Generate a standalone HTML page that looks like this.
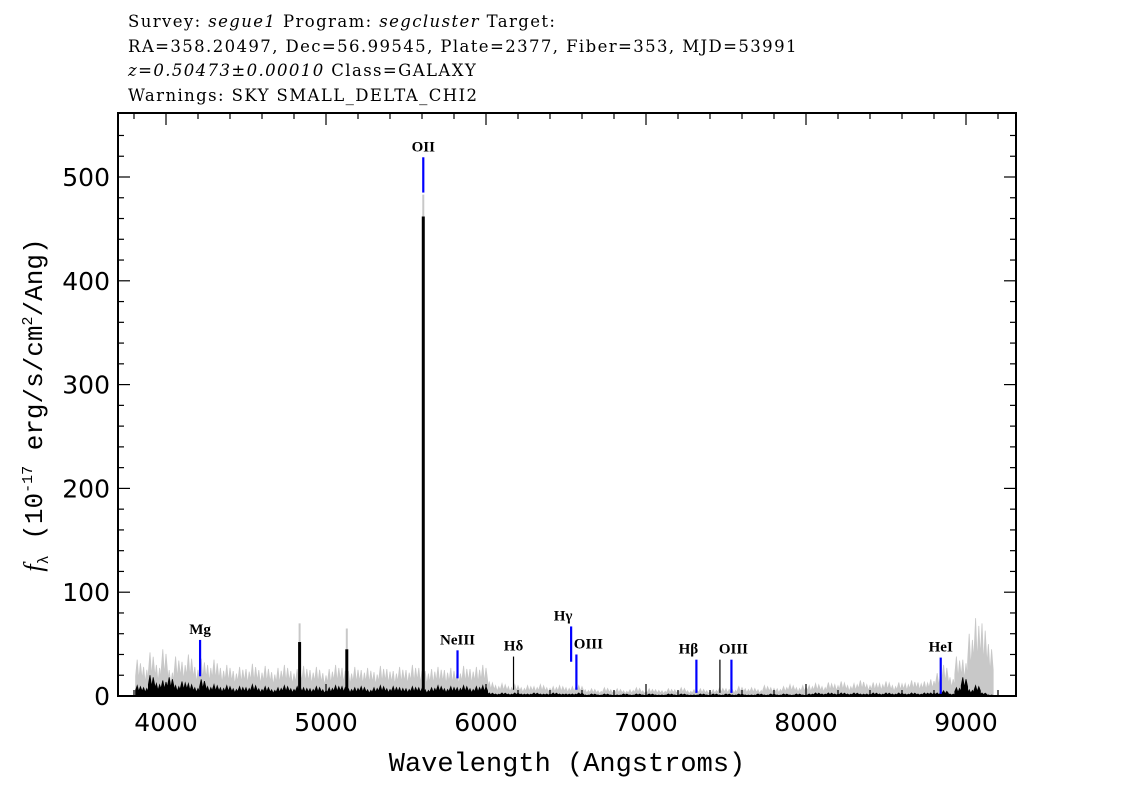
<!DOCTYPE html>
<html><head><meta charset="utf-8">
<style>
body{margin:0;background:#fff;width:1134px;height:810px;overflow:hidden;font-family:"Liberation Sans",sans-serif}
#hdr{position:absolute;left:128px;top:10px;font-size:16.5px;line-height:24.5px;color:#000;font-family:"DejaVu Serif","Liberation Serif",serif;letter-spacing:1.4px}
</style></head><body>
<div id="hdr">
<div>Survey: <i>segue1</i> Program: <i>segcluster</i> Target:</div>
<div>RA=358.20497, Dec=56.99545, Plate=2377, Fiber=353, MJD=53991</div>
<div><i>z=0.50473±0.00010</i> Class=GALAXY</div>
<div>Warnings: SKY SMALL_DELTA_CHI2</div>
</div>
<svg id="chart" width="1134" height="810" style="position:absolute;left:0;top:0"></svg>
<script>
const wStart=3830, wStep=40;
const errFlux=[35,28,42,30,45,25,38,33,40,28,36,30,35,
27,30,24,28,26,31,25,29,23,27,30,24,26,29,25,28,22,26,30,27,24,28,25,27,23,29,26,24,28,25,30,27,24,26,28,25,27,24,29,26,28,30,
14,10,12,9,11,8,10,9,11,8,9,10,8,9,10,
6,7,5,8,6,7,5,6,8,5,7,6,5,7,6,8,5,6,7,5,6,8,7,6,9,7,8,6,10,8,7,9,11,8,10,
10,12,9,13,11,14,10,12,15,11,13,12,14,10,13,12,15,13,14,16,
22,30,18,38,35,60,75,70,50];
const flux=[10,8,20,12,15,18,10,14,12,8,16,9,11,
8,10,7,9,8,11,7,9,6,8,10,7,9,8,7,9,6,8,10,9,7,8,9,6,8,10,7,9,8,7,9,8,6,8,10,7,9,8,10,7,9,10,
3,2,3,2,3,2,2,3,2,2,3,2,2,2,3,
1,2,1,2,1,1,2,1,2,1,2,1,1,2,1,2,1,1,2,1,2,1,2,1,2,1,1,2,1,2,1,2,1,2,1,
2,3,2,3,2,3,2,3,2,2,3,2,3,2,3,2,3,2,3,3,
3,5,2,8,18,6,10,3,1];
const spikeW=[4835,5130,5608];
const spikeFlux=[52,45,462];
const spikeErr=[70,65,483];
const lineNames=["OII","Mg","NeIII","Hδ","Hγ","OIII","Hβ","","OIII","HeI"];
const lineW=[5608,4213,5822,6172,6532,6565,7315,7462,7534,8842];
const lineLo=[485,19,17,6,33,6,3,3,3,2];
const lineHi=[519,54,44,38,67,40,35,35,35,37];
const lineColor=["#00f","#00f","#00f","#000","#00f","#00f","#00f","#000","#00f","#00f"];
const lineLabelDx=[0,0,0,0,-8,12,-8,0,2,0];
const xTicks=[4000,5000,6000,7000,8000,9000];
const yTicks=[0,100,200,300,400,500];

const L=118,R=1016,T=113,B=696;
const X=w=>166+(w-4000)*0.16;
const Y=v=>696-v*1.038;
const svg=document.getElementById('chart');
const NS='http://www.w3.org/2000/svg';
function mk(tag,attrs,parent){const e=document.createElementNS(NS,tag);for(const k in attrs)e.setAttribute(k,attrs[k]);(parent||svg).appendChild(e);return e;}

function series(arr,color,name){
  let d='M'+X(wStart-wStep/2)+','+Y(0);
  arr.forEach((v,i)=>{const w=wStart+i*wStep;const xa=X(w-wStep/2),xb=X(w),xc=X(w+wStep/2);
    d+=' L'+xa+','+Y(v*0.55)+' L'+(xa+xb)/2+','+Y(v)+' L'+xb+','+Y(v*0.45)+' L'+(xb+xc)/2+','+Y(v*0.9)+' L'+xc+','+Y(v*0.5);});
  d+=' L'+X(wStart+(arr.length-0.5)*wStep)+','+Y(0)+' Z';
  const p=mk('path',{d:d,fill:color,stroke:color,'stroke-width':0.8});
  
  
}
series(errFlux,'#c8c8c8','error-spectrum');
spikeW.forEach((w,i)=>{const l=mk('line',{x1:X(w),x2:X(w),y1:Y(0),y2:Y(spikeErr[i]),stroke:'#c8c8c8','stroke-width':2});
  
  });
series(flux,'#000','flux-spectrum');
spikeW.forEach((w,i)=>{const l=mk('line',{x1:X(w),x2:X(w),y1:Y(0),y2:Y(spikeFlux[i]),stroke:'#000','stroke-width':3});
  
  });

lineW.forEach((w,i)=>{
  const l=mk('line',{x1:X(w),x2:X(w),y1:Y(lineLo[i]),y2:Y(lineHi[i]),stroke:lineColor[i],'stroke-width':(lineColor[i]==='#000')?1.2:2.2});
  
  
  if(lineNames[i]){const t=mk('text',{x:X(w)+lineLabelDx[i],y:Y(lineHi[i])-6,'text-anchor':'middle','font-size':15,'font-weight':'bold','font-family':'Liberation Serif,serif'});
    t.textContent=lineNames[i];
    
    }
});

const frame=mk('rect',{x:L,y:T,width:R-L,height:B-T,fill:'none',stroke:'#000','stroke-width':2});


for(let w=3800;w<=9300;w+=200){const x=X(w);const maj=w%1000===0;const len=maj?12:6;
  mk('line',{x1:x,x2:x,y1:B,y2:B-len,stroke:'#000','stroke-width':1.2});
  mk('line',{x1:x,x2:x,y1:T,y2:T+len,stroke:'#000','stroke-width':1.2});}
for(let v=0;v<=540;v+=20){const y=Y(v);const maj=v%100===0;const len=maj?12:6;
  mk('line',{x1:L,x2:L+len,y1:y,y2:y,stroke:'#000','stroke-width':1.2});
  mk('line',{x1:R,x2:R-len,y1:y,y2:y,stroke:'#000','stroke-width':1.2});}
xTicks.forEach(w=>{const t=mk('text',{x:X(w),y:731,'text-anchor':'middle','font-size':25,'font-family':'DejaVu Sans,sans-serif'});t.textContent=w;
  
  });
yTicks.forEach(v=>{const t=mk('text',{x:110,y:Y(v)+9,'text-anchor':'end','font-size':25,'font-family':'DejaVu Sans,sans-serif'});t.textContent=v;
  
  });
const xt=mk('text',{x:567,y:771,'text-anchor':'middle','font-size':27,'font-family':'Liberation Mono,monospace'});
xt.textContent='Wavelength (Angstroms)';


const yt=mk('text',{x:0,y:0,'text-anchor':'middle','font-size':26,'font-family':'Liberation Mono,monospace',transform:'translate(42,405) rotate(-90)'});
yt.innerHTML='<tspan font-style="italic" font-family="Liberation Serif,serif">f</tspan><tspan font-size="15" dy="6">λ</tspan><tspan dy="-6"> (10</tspan><tspan font-size="15" dy="-10">-17</tspan><tspan dy="10"> erg/s/cm</tspan><tspan font-size="15" dy="-10">2</tspan><tspan dy="10">/Ang)</tspan>';


</script>
</body></html>
